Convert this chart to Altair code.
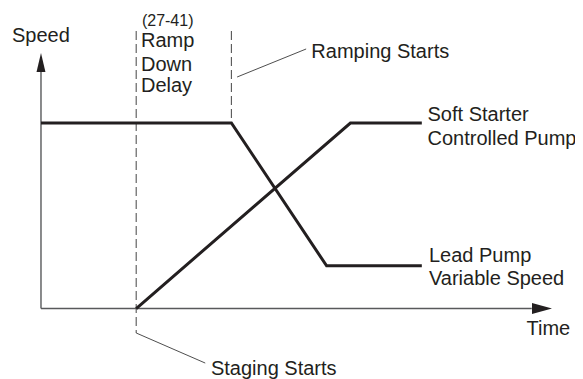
import altair as alt
import pandas as pd

# ---- series (time in arbitrary units, speed in %) ----
lead_time = [0, 4, 6, 8]
lead_speed = [100, 100, 23, 23]
soft_time = [2, 6.5, 8]
soft_speed = [0, 100, 100]

# ---- axes of the diagram ----
axis_time_end = 10.31
axis_speed_end = 127.5
arrow_time_center = 10.525
arrow_speed_center = 132.6

# ---- event markers (dashed) ----
dash_time = [2, 4]
dash_top = [149.6, 149.6]
dash_bottom = [-13.2, 100]

# ---- leader lines ----
leader_t1 = [4.12, 2.0]
leader_s1 = [124.8, -13.2]
leader_t2 = [5.57, 3.45]
leader_s2 = [139.9, -29.4]

# ---- labels ----
label_text = ["Speed", "Ramp", "Down", "Delay", "Ramping Starts", "Soft Starter",
              "Controlled Pump", "Lead Pump", "Variable Speed", "Time", "Staging Starts"]
label_t = [-0.609, 2.10, 2.10, 2.10, 5.68, 8.12, 8.12, 8.15, 8.15, 10.20, 3.57]
label_s = [143.7, 141.0, 128.3, 116.7, 134.9, 101.1, 88.1, 25.1, 12.7, -14.3, -35.8]
param_text = ["(27-41)"]
param_t = [2.12]
param_s = [152.3]

X_DOMAIN = [-0.693, 11.218]
Y_DOMAIN = [-38.0, 162.0]

xs = alt.Scale(domain=X_DOMAIN, nice=False, zero=False)
ys = alt.Scale(domain=Y_DOMAIN, nice=False, zero=False)
INK = "#231f20"
FONT = "Liberation Sans"

lines_df = pd.concat([
    pd.DataFrame({"t": lead_time, "s": lead_speed, "series": "Lead Pump", "i": range(len(lead_time))}),
    pd.DataFrame({"t": soft_time, "s": soft_speed, "series": "Soft Starter", "i": range(len(soft_time))}),
])

lines = alt.Chart(lines_df).mark_line(color=INK, strokeWidth=3).encode(
    x=alt.X("t:Q", scale=xs, axis=None),
    y=alt.Y("s:Q", scale=ys, axis=None),
    detail="series:N",
    order="i:Q",
)

axes_df = pd.DataFrame({
    "t": [0, 0], "t2": [0, axis_time_end],
    "s": [0, 0], "s2": [axis_speed_end, 0],
})
axes = alt.Chart(axes_df).mark_rule(color="#58595b", strokeWidth=1.4).encode(
    x=alt.X("t:Q", scale=xs, axis=None), x2="t2:Q",
    y=alt.Y("s:Q", scale=ys, axis=None), y2="s2:Q",
)

up_arrow = alt.Chart(pd.DataFrame({"t": [0], "s": [arrow_speed_center]})).mark_point(
    shape="M0,-1L0.47,1L-0.47,1Z", size=361, filled=True, color=INK, opacity=1
).encode(x=alt.X("t:Q", scale=xs, axis=None), y=alt.Y("s:Q", scale=ys, axis=None))

right_arrow = alt.Chart(pd.DataFrame({"t": [arrow_time_center], "s": [0]})).mark_point(
    shape="M1,0L-1,0.55L-1,-0.55Z", size=400, filled=True, color=INK, opacity=1
).encode(x=alt.X("t:Q", scale=xs, axis=None), y=alt.Y("s:Q", scale=ys, axis=None))

dash_df = pd.DataFrame({"t": dash_time, "s": dash_top, "s2": dash_bottom})
dashes = alt.Chart(dash_df).mark_rule(color="#555555", strokeWidth=1.1, strokeDash=[9, 4]).encode(
    x=alt.X("t:Q", scale=xs, axis=None),
    y=alt.Y("s:Q", scale=ys, axis=None), y2="s2:Q",
)

leader_df = pd.DataFrame({"t": leader_t1, "s": leader_s1, "t2": leader_t2, "s2": leader_s2})
leaders = alt.Chart(leader_df).mark_rule(color="#3a3a3a", strokeWidth=0.9).encode(
    x=alt.X("t:Q", scale=xs, axis=None), x2="t2:Q",
    y=alt.Y("s:Q", scale=ys, axis=None), y2="s2:Q",
)

labels = alt.Chart(pd.DataFrame({"label": label_text, "t": label_t, "s": label_s})).mark_text(
    align="left", baseline="alphabetic", font=FONT, fontSize=20, color=INK
).encode(
    x=alt.X("t:Q", scale=xs, axis=None), y=alt.Y("s:Q", scale=ys, axis=None), text="label:N"
)

param = alt.Chart(pd.DataFrame({"label": param_text, "t": param_t, "s": param_s})).mark_text(
    align="left", baseline="alphabetic", font=FONT, fontSize=16, color=INK
).encode(
    x=alt.X("t:Q", scale=xs, axis=None), y=alt.Y("s:Q", scale=ys, axis=None), text="label:N"
)

chart = alt.layer(axes, dashes, leaders, lines, up_arrow, right_arrow, labels, param).properties(
    width=567, height=371, padding=0,
    autosize=alt.AutoSizeParams(type="none"),
    background="white",
).configure_view(stroke=None)

chart.save("out.html", embed_options={"renderer": "svg", "actions": False})
